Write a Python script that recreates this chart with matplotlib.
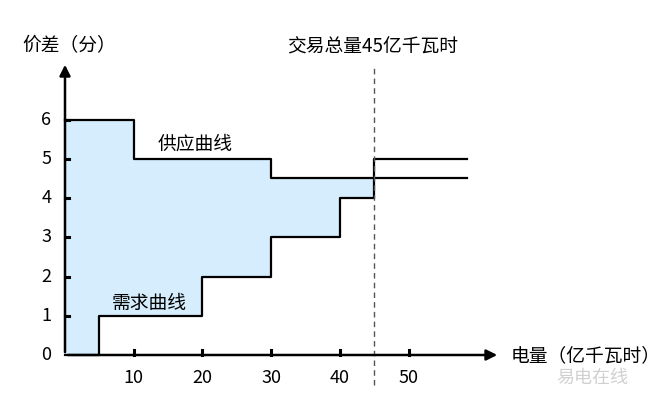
import matplotlib.pyplot as plt
import numpy as np

plt.rcParams['font.family'] = ['Noto Sans CJK SC', 'DejaVu Sans']

# step curves (x = quantity in 亿千瓦时, y = price difference in 分)
supply_x = [0, 10, 30, 58.5]
supply_y = [6, 5, 4.5, 4.5]
demand_x = [0, 5, 20, 30, 40, 45, 58.5]
demand_y = [0, 1, 2, 3, 4, 5, 5]
trade_total = 45
x_ticks = [10, 20, 30, 40, 50]
y_ticks = [0, 1, 2, 3, 4, 5, 6]

xmax, ymax = 63.3, 7.47

fig = plt.figure(figsize=(6.68, 4.01), dpi=100)
ax = fig.add_axes([65 / 668, 46 / 401, 435 / 668, 293 / 401])
ax.set_xlim(0, xmax)
ax.set_ylim(0, ymax)
ax.axis('off')

# shaded region between the two curves up to the traded quantity
allx = sorted(set(supply_x + demand_x))
allx = [v for v in allx if v <= trade_total]
lo = [demand_y[np.searchsorted(demand_x, v, side='right') - 1] for v in allx]
hi = [supply_y[np.searchsorted(supply_x, v, side='right') - 1] for v in allx]
ax.fill_between(allx, lo, hi, step='post', color='#d5edfc', lw=0)

ax.step(supply_x, supply_y, where='post', color='black', lw=1.6, clip_on=False)
ax.step(demand_x, demand_y, where='post', color='black', lw=1.6, clip_on=False)

# dashed line at total traded quantity
ax.plot([trade_total, trade_total], [-0.77, 7.4], color='#555555', lw=1,
        ls=(0, (4, 3)), clip_on=False)

# axes with arrows
ax.annotate('', xy=(xmax, 0), xytext=(0, 0), annotation_clip=False,
            arrowprops=dict(arrowstyle='-|>', lw=1.8, color='black', mutation_scale=16))
ax.annotate('', xy=(0, ymax), xytext=(0, 0), annotation_clip=False,
            arrowprops=dict(arrowstyle='-|>', lw=1.8, color='black', mutation_scale=16))

# ticks
for t in x_ticks:
    ax.plot([t, t], [0, 0.13], color='black', lw=2.2, clip_on=False)
    ax.text(t, -0.35, str(t), ha='center', va='top', fontsize=13)
for t in y_ticks:
    if t > 0:
        ax.plot([0, 0.6], [t, t], color='black', lw=2.2, clip_on=False)
    ax.text(-2.0, t, str(t), ha='right', va='center', fontsize=13)

fig.text(22 / 668, 1 - 46 / 401, '价差（分）', ha='left', va='center', fontsize=13.5)
fig.text(373 / 668, 1 - 47 / 401, '交易总量45亿千瓦时', ha='center', va='center', fontsize=13.5)
ax.text(19.0, 5.12, '供应曲线', ha='center', va='bottom', fontsize=13.5)
ax.text(12.3, 1.05, '需求曲线', ha='center', va='bottom', fontsize=13.5)
fig.text(511 / 668, 1 - 356 / 401, '电量（亿千瓦时）', ha='left', va='center', fontsize=13.5)
fig.text(556 / 668, 1 - 378 / 401, '易电在线', ha='left', va='center', fontsize=13,
         color='#d0d0d0')

fig.savefig('out.png', dpi=100)
